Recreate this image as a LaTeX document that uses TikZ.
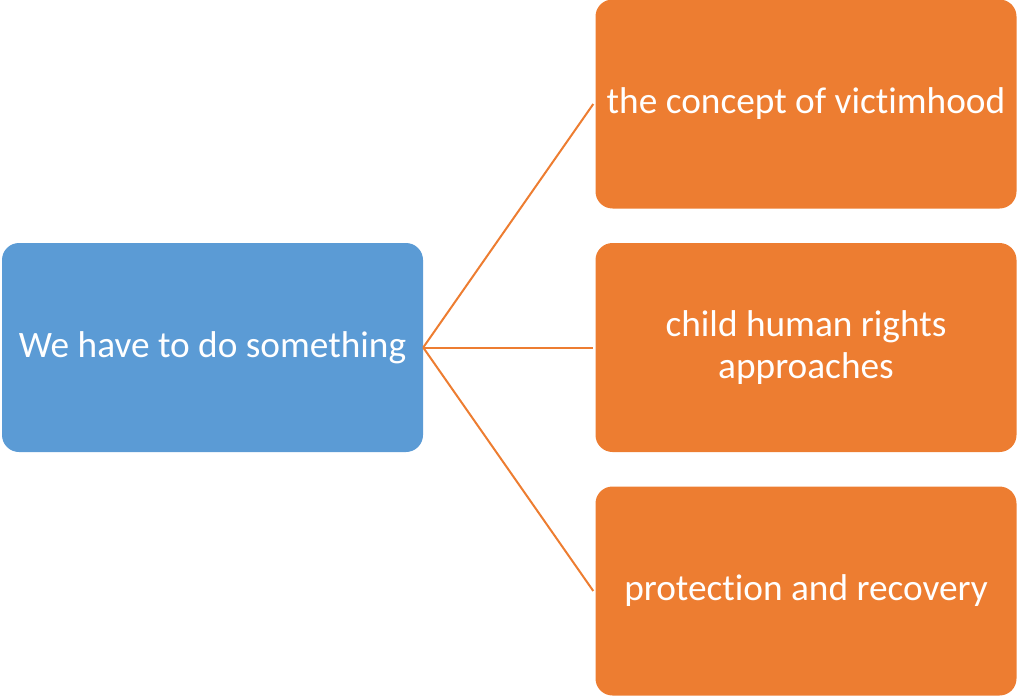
\documentclass[tikz,border=0pt]{standalone}
\usepackage{fontspec}
\setmainfont[Ligatures={NoCommon}]{Carlito}
\definecolor{offblue}{HTML}{5B9BD5}
\definecolor{offorange}{HTML}{ED7D31}
\begin{document}
\begin{tikzpicture}[x=1pt,y=-1pt,
  box/.style={rounded corners=17pt, minimum width=421pt, minimum height=209pt, inner sep=0pt, text=white, align=center, font=\fontsize{37.3}{42}\selectfont},
  bluebox/.style={box, fill=offblue},
  orangebox/.style={box, fill=offorange},
  link/.style={draw=offorange, line width=2pt}]
\useasboundingbox (0,0) rectangle (1017,698);
\node[bluebox] (root) at (212.5,347.5) {We have to do something};
\node[orangebox] (a) at (806,104) {the concept of victimhood};
\node[orangebox] (b) at (806,347.5) {child human rights\\approaches};
\node[orangebox] (c) at (806,591) {protection and recovery};
\coordinate (ra) at ([xshift=-2pt]a.west);
\coordinate (rb) at ([xshift=-2pt]b.west);
\coordinate (rc) at ([xshift=-2pt]c.west);
\draw[link] (root.east) -- (ra);
\draw[link] (root.east) -- (rb);
\draw[link] (root.east) -- (rc);
\end{tikzpicture}
\end{document}
